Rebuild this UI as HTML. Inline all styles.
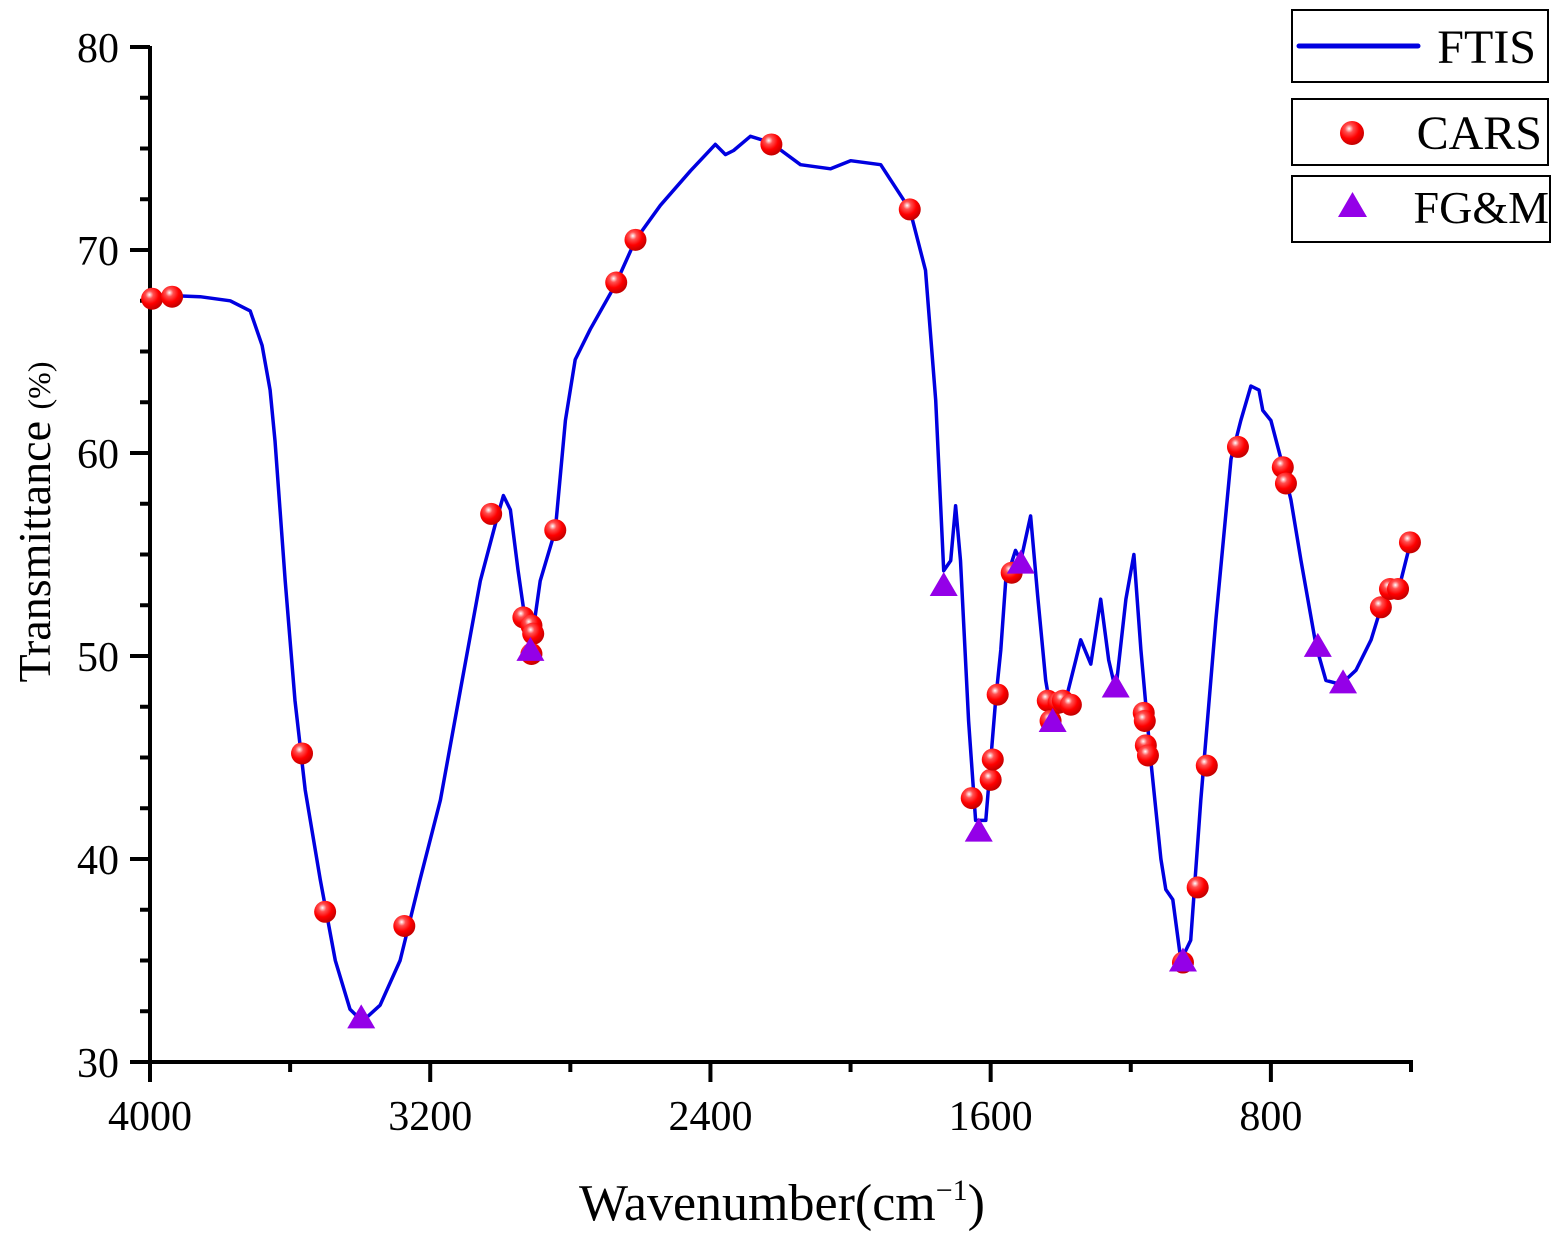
<!DOCTYPE html>
<html><head><meta charset="utf-8"><style>
body{margin:0;background:#fff}
svg{display:block}
text{font-family:"Liberation Serif",serif;fill:#000}
</style></head><body>
<svg id="chart" width="1564" height="1249" viewBox="0 0 1564 1249" xmlns="http://www.w3.org/2000/svg">
<defs>
<radialGradient id="ball" cx="0.38" cy="0.32" r="0.7">
<stop offset="0" stop-color="#ffffff"/><stop offset="0.25" stop-color="#ff5050"/><stop offset="0.6" stop-color="#ff0000"/><stop offset="1" stop-color="#c00000"/>
</radialGradient>
</defs>
<g id="axes"></g>
<g id="series"></g>
<text transform="translate(50,522) rotate(-90)" text-anchor="middle" font-size="46">Transmittance <tspan font-size="32">(%)</tspan></text>
<text x="782" y="1220" text-anchor="middle" font-size="52">Wavenumber(cm<tspan font-size="30" dy="-20">−1</tspan><tspan dy="20">)</tspan></text>
<g>
<g>
<rect x="1292" y="10" width="256" height="72" fill="#fff" stroke="#000" stroke-width="2"/>
<line x1="1299" y1="46" x2="1418" y2="46" stroke="#0000e0" stroke-width="5" stroke-linecap="round"/>
<text x="1536" y="63" text-anchor="end" font-size="48">FTIS</text>
</g>
<g>
<rect x="1292" y="99" width="256" height="66" fill="#fff" stroke="#000" stroke-width="2"/>
<circle cx="1352" cy="133" r="12" fill="url(#ball)"/>
<text x="1542" y="149" text-anchor="end" font-size="48">CARS</text>
</g>
<g>
<rect x="1292" y="176" width="258" height="66" fill="#fff" stroke="#000" stroke-width="2"/>
<polygon points="1338,217 1367,217 1352.5,192" fill="#9400e8"/>
<text x="1549" y="223" text-anchor="end" font-size="46">FG&amp;M</text>
</g>
</g>
</svg>
<script>
const lineWn=[4000,3857,3771,3714,3680,3657,3643,3614,3586,3557,3514,3471,3429,3394,3343,3286,3229,3171,3114,3057,3014,2991,2971,2949,2929,2914,2886,2843,2814,2786,2743,2671,2614,2543,2457,2386,2357,2334,2286,2229,2143,2057,2000,1914,1831,1786,1757,1734,1714,1700,1686,1663,1643,1614,1586,1571,1557,1529,1514,1486,1466,1443,1423,1386,1357,1343,1314,1286,1263,1243,1214,1191,1171,1143,1114,1100,1080,1057,1029,1000,957,914,886,857,834,823,800,771,743,714,671,643,600,557,514,471,429,400];
const lineT=[67.8,67.7,67.5,67.0,65.3,63.1,60.6,53.7,47.8,43.4,39.0,35.0,32.6,32.0,32.8,35.0,39.0,42.9,48.3,53.7,56.5,57.9,57.2,54.2,51.8,50.3,53.7,56.2,61.6,64.6,66.1,68.3,70.5,72.2,73.9,75.2,74.7,74.9,75.6,75.3,74.2,74.0,74.4,74.2,72.0,69.0,62.6,54.2,54.7,57.4,54.7,46.8,41.9,41.9,47.8,50.3,53.7,55.2,54.7,56.9,53.0,48.8,46.8,47.8,49.8,50.8,49.6,52.8,49.8,48.3,52.8,55.0,50.3,44.9,40.0,38.5,38.0,35.0,36.0,42.9,51.8,59.7,61.6,63.3,63.1,62.1,61.6,59.7,57.7,54.7,50.5,48.8,48.6,49.3,50.8,53.2,53.7,55.7];
const carsWn=[3994,3937,3566,3500,3274,3026,2934,2911,2906,2911,2843,2669,2614,2226,1831,1654,1600,1594,1580,1540,1437,1429,1406,1394,1371,1163,1160,1157,1151,1051,1009,983,894,766,757,486,460,437,403];
const carsT=[67.6,67.7,45.2,37.4,36.7,57.0,51.9,51.5,51.1,50.1,56.2,68.4,70.5,75.2,72.0,43.0,43.9,44.9,48.1,54.1,47.8,46.8,47.7,47.8,47.6,47.2,46.8,45.6,45.1,34.9,38.6,44.6,60.3,59.3,58.5,52.4,53.3,53.3,55.6];
const fgWn=[3397,2914,1734,1634,1514,1423,1243,1051,666,594];
const fgT=[32.2,50.3,53.5,41.4,54.6,46.8,48.5,35.0,50.5,48.7];
const xTicks=[4000,3200,2400,1600,800];
const yTicks=[30,40,50,60,70,80];

const X0=150,X1=1411,Y0=1062,Y1=47;
const sx=w=>X0+(4000-w)*(X1-X0)/3600;
const sy=t=>Y0-(t-30)*(Y0-Y1)/50;
const NS="http://www.w3.org/2000/svg";
function mk(tag,attrs,parent){const e=document.createElementNS(NS,tag);for(const k in attrs)e.setAttribute(k,attrs[k]);parent.appendChild(e);return e;}
const axes=document.getElementById('axes'),ser=document.getElementById('series');

const ya=mk('line',{x1:X0,y1:Y1-1,x2:X0,y2:Y0+2,stroke:'#000','stroke-width':4},axes);


const xa=mk('line',{x1:X0-2,y1:Y0,x2:X1+2,y2:Y0,stroke:'#000','stroke-width':4},axes);


for(let v=30;v<=80.01;v+=2.5){
  const major=Math.abs(v%10)<0.01;
  const t=mk('line',{x1:X0-(major?20:10),y1:sy(v),x2:X0,y2:sy(v),stroke:'#000','stroke-width':4},axes);
  
  
}
yTicks.forEach(v=>{const t=mk('text',{x:119,y:sy(v)+15,'text-anchor':'end','font-size':42},axes);t.textContent=v;
  
  });
for(let w=4000;w>=400;w-=400){
  const major=w%800===0;
  const t=mk('line',{x1:sx(w),y1:Y0,x2:sx(w),y2:Y0+(major?20:10),stroke:'#000','stroke-width':4},axes);
  
  
}
xTicks.forEach(w=>{const t=mk('text',{x:sx(w),y:1130,'text-anchor':'middle','font-size':42},axes);t.textContent=w;
  
  });

const d=lineWn.map((w,i)=>(i?'L':'M')+sx(w).toFixed(1)+','+sy(lineT[i]).toFixed(1)).join(' ');
const p=mk('path',{d:d,fill:'none',stroke:'#0000e0','stroke-width':3.5,'stroke-linejoin':'round'},ser);


carsWn.forEach((w,i)=>{const c=mk('circle',{cx:sx(w),cy:sy(carsT[i]),r:11,fill:'url(#ball)'},ser);
  
  });
fgWn.forEach((w,i)=>{const x=sx(w),y=sy(fgT[i]);
  const t=mk('polygon',{points:`${x-14},${y+11} ${x+14},${y+11} ${x},${y-13}`,fill:'#9400e8'},ser);
  
  });
</script>
</body></html>
